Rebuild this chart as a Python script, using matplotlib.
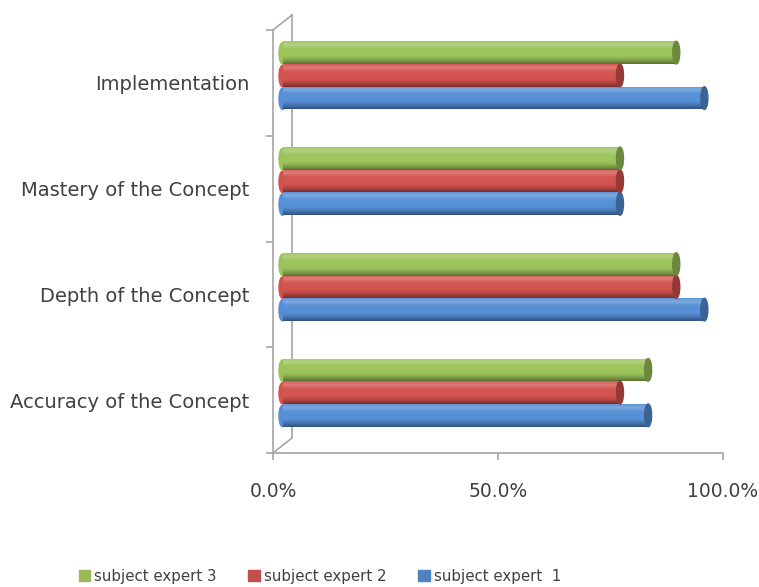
import numpy as np
import matplotlib
matplotlib.use('Agg')
import matplotlib.pyplot as plt
from matplotlib.patches import Ellipse, Patch
from matplotlib.colors import to_rgb

# Data (bottom to top)
categories = ['Accuracy of the Concept', 'Depth of the Concept',
              'Mastery of the Concept', 'Implementation']
expert1 = [81.25, 93.75, 75.0, 93.75]
expert2 = [75.0, 87.5, 75.0, 75.0]
expert3 = [81.25, 87.5, 75.0, 87.5]
series_names = ['subject expert  1', 'subject expert 2', 'subject expert 3']
xticks = [0, 50, 100]
xtick_labels = ['0.0%', '50.0%', '100.0%']

colors = ['#558ED5', '#D3524E', '#9BC35A']
legend_colors = ['#4F81BD', '#C0504D', '#9BBB59']
text_color = '#404040'
plt.rcParams['font.family'] = ['DejaVu Sans']

fig = plt.figure(figsize=(7.59, 5.87), dpi=100)
W, H = 759, 587
ax = fig.add_axes([273 / W, 1 - 453 / H, (723 - 273) / W, (453 - 30) / H])
ax.set_xlim(0, 100)
ax.set_ylim(-0.5, len(categories) - 0.5)

# 3D depth offset in data units
px_x = 100 / 450
px_y = len(categories) / 423
depth_dx, depth_dy = 19 * px_x, 15 * px_y
bar_h = 0.215
cap_w = 7 * px_x


def shade(c, f):
    r = np.array(to_rgb(c))
    if f >= 0:
        return tuple(r + (1 - r) * f)
    return tuple(r * (1 + f))


# cylinder shading profile, top to bottom
t = np.linspace(0, 1, 64)
profile = 0.02 + 0.2 * np.exp(-((t - 0.15) / 0.12) ** 2) - 0.45 * np.clip((t - 0.6) / 0.4, 0, 1) ** 1.5


def cylinder(y, length, color):
    x0 = depth_dx / 2
    yc = y + depth_dy / 2
    img = np.array([[shade(color, p)] for p in profile])
    bar = ax.barh(yc, length, height=bar_h, left=x0, color=color,
                  linewidth=0, zorder=3)[0]
    im = ax.imshow(img, extent=[x0, x0 + length, yc - bar_h / 2, yc + bar_h / 2],
                   aspect='auto', zorder=3, interpolation='bilinear')
    im.set_clip_path(bar)
    ax.add_patch(Ellipse((x0, yc - bar_h * 0.03), cap_w, bar_h * 0.94,
                         color=shade(color, 0.0), zorder=2.9))
    ax.add_patch(Ellipse((x0 + length, yc), cap_w, bar_h,
                         color=shade(color, -0.3), zorder=3.1))


ys = np.arange(len(categories))
for i, (vals, c) in enumerate(zip([expert1, expert2, expert3], colors)):
    for y, v in zip(ys, vals):
        cylinder(y + (i - 1) * bar_h, v, c)

ax.set_xlim(0, 100)
ax.set_ylim(-0.5, len(categories) - 0.5)

# frame: front axes lines and back wall
grey = '#A6A6A6'
for s in ['top', 'right']:
    ax.spines[s].set_visible(False)
for s in ['left', 'bottom']:
    ax.spines[s].set_color(grey)
    ax.spines[s].set_linewidth(1.2)
y0, y1 = -0.5, len(categories) - 0.5
ax.plot([depth_dx, depth_dx], [y0 + depth_dy, y1 + depth_dy], color=grey, lw=1.2, clip_on=False, zorder=1)
ax.plot([0, depth_dx], [y0, y0 + depth_dy], color=grey, lw=1.2, clip_on=False, zorder=1)
ax.plot([0, depth_dx], [y1, y1 + depth_dy], color=grey, lw=1.2, clip_on=False, zorder=1)

ax.set_yticks(np.arange(-0.5, len(categories), 1.0))
ax.set_yticklabels([])
ax.set_yticks(ys, minor=True)
ax.set_yticklabels(categories, minor=True)
ax.tick_params(axis='y', which='major', length=5, color=grey, width=1.2)
ax.tick_params(axis='y', which='minor', length=0, pad=17, labelsize=14, labelcolor=text_color)
ax.set_xticks(xticks)
ax.set_xticklabels(xtick_labels)
ax.tick_params(axis='x', length=5, color=grey, width=1.2, pad=16, labelsize=13.5, labelcolor=text_color)

handles = [Patch(color=c, label=n) for c, n in zip(legend_colors[::-1], series_names[::-1])]
fig.legend(handles=handles, loc='center', bbox_to_anchor=(320 / W, 1 - 576 / H), ncol=3,
           frameon=False, fontsize=10.8, labelcolor=text_color, handlelength=0.75,
           handleheight=0.75, handletextpad=0.3, columnspacing=2.1)

fig.savefig('out.png', dpi=100)
